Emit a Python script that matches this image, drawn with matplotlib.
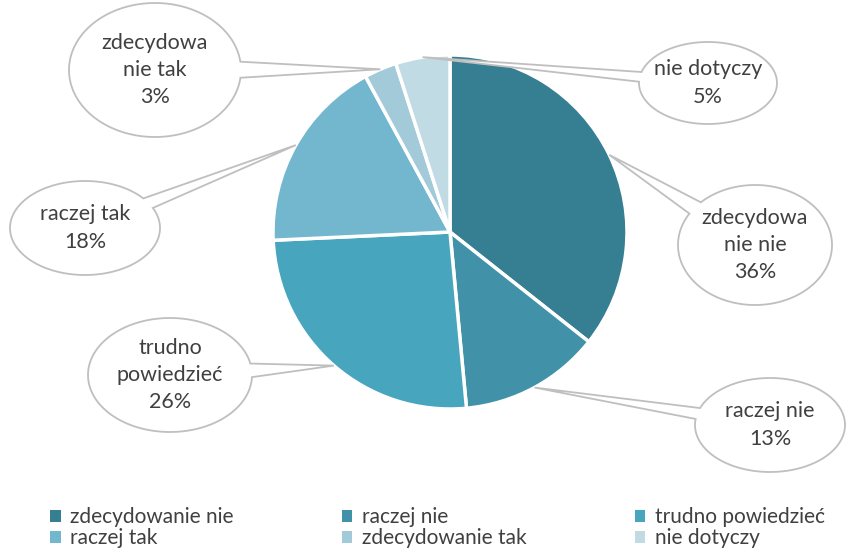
import numpy as np
import matplotlib
matplotlib.use("Agg")
import matplotlib.pyplot as plt
from matplotlib.patches import Polygon, Patch

# ---- data ----
categories = ["zdecydowanie nie", "raczej nie", "trudno powiedzieć",
              "raczej tak", "zdecydowanie tak", "nie dotyczy"]
values = [36, 13, 26, 18, 3, 5]
callout_texts = ["zdecydowa\nnie nie\n36%", "raczej nie\n13%", "trudno\npowiedzieć\n26%",
                 "raczej tak\n18%", "zdecydowa\nnie tak\n3%", "nie dotyczy\n5%"]
colors = ["#367E92", "#4192A8", "#47A5BE", "#73B7CE", "#A2CAD9", "#C1DBE5"]

W, H = 846, 548
plt.rcParams['font.family'] = ['Lato', 'DejaVu Sans']

fig = plt.figure(figsize=(W / 100, H / 100), dpi=100)
ax = fig.add_axes([0, 0, 1, 1])

def py(y):  # pixel-from-top -> data y
    return H - y

cx, cy, R = 450, py(232), 177
wedges, _ = ax.pie(values, colors=colors, startangle=90, counterclock=False,
                   center=(cx, cy), radius=R, frame=True,
                   wedgeprops=dict(edgecolor='white', linewidth=2.5))
ax.set_xlim(0, W)
ax.set_ylim(0, H)
ax.set_aspect('equal')
ax.axis('off')

# callout ellipses: center x, center y (from top), half-width, half-height
callouts = [(755, 245, 77, 60), (770, 425, 75, 47), (170, 375, 82, 57),
            (85, 228, 75, 47), (155, 70, 86, 67), (708, 83, 69, 41)]

edge = "#BFBFBF"
for w, (ex, ey, a, b), txt in zip(wedges, callouts, callout_texts):
    mid = np.deg2rad((w.theta1 + w.theta2) / 2)
    tx, ty = cx + R * np.cos(mid), cy + R * np.sin(mid)
    ecx, ecy = ex, py(ey)
    t0 = np.arctan2((ty - ecy) / b, (tx - ecx) / a)
    d = 0.12
    ts = np.linspace(t0 + d, t0 + 2 * np.pi - d, 200)
    pts = np.column_stack([ecx + a * np.cos(ts), ecy + b * np.sin(ts)])
    pts = np.vstack([pts, [tx, ty]])
    ax.add_patch(Polygon(pts, closed=True, facecolor='white', edgecolor=edge,
                         linewidth=1.3, zorder=3))
    ax.text(ecx, ecy, txt, ha='center', va='center', fontsize=15.5,
            color='#404040', linespacing=1.45, zorder=4)

handles = [Patch(facecolor=c, edgecolor='none') for c in colors]
order = [0, 3, 1, 4, 2, 5]
fig.legend([handles[i] for i in order], [categories[i] for i in order],
           ncol=3, loc='upper left', bbox_to_anchor=(40 / W, 1 - 497 / H),
           frameon=False, fontsize=15, labelcolor='#404040',
           handlelength=0.5, handleheight=0.5, handletextpad=0.45,
           columnspacing=5.2, labelspacing=0.05, borderpad=0)

fig.savefig("out.png", dpi=100)
